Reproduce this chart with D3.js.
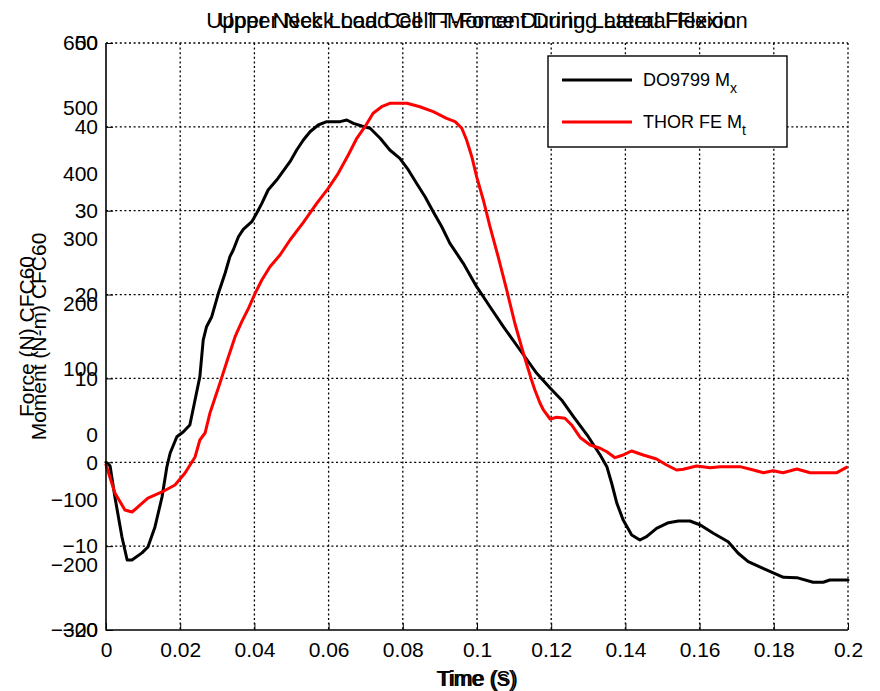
<!DOCTYPE html>
<html>
<head>
<meta charset="utf-8">
<script src="https://cdn.jsdelivr.net/npm/d3@7/dist/d3.min.js"></script>
<style>
  html, body { margin: 0; padding: 0; background: #fff; }
  svg { display: block; }
  text { font-family: "Liberation Sans", Arial, Helvetica, sans-serif; fill: #000; }
</style>
</head>
<body>
<svg id="chart" width="880" height="691"></svg>
<script>
// ---- data (time in s, moment in N-m) ----
const titles = ["Upper Neck Load Cell T-Force During Lateral Flexion",
                "Upper Neck Load Cell T-Moment During Lateral Flexion"];
const yLabels = ["Force (N) CFC60", "Moment (N-m) CFC60"];
const xLabels = ["Time (s)", "Time (S)"];
const xTicks = [0, 0.02, 0.04, 0.06, 0.08, 0.1, 0.12, 0.14, 0.16, 0.18, 0.2];
const forceTicks = [-300, -200, -100, 0, 100, 200, 300, 400, 500, 600];
const momentTicks = [-20, -10, 0, 10, 20, 30, 40, 50];
const seriesNames = ["DO9799 M", "THOR FE M"];
const seriesSubs = ["x", "t"];
const seriesColors = ["#000000", "#ff0000"];

const doTime = [0,0.0011,0.0024,0.0043,0.0057,0.0070,0.0097,0.0113,0.0132,0.0151,0.0164,0.0173,0.0191,0.0208,0.0226,0.0240,0.0253,0.0262,0.0271,0.0285,0.0303,0.0321,0.0334,0.0343,0.0357,0.0370,0.0393,0.0406,0.0420,0.0437,0.0460,0.0496,0.0514,0.0532,0.0550,0.0572,0.0595,0.0631,0.0649,0.0667,0.0689,0.0712,0.0739,0.0765,0.0792,0.0815,0.0837,0.0860,0.0882,0.0905,0.0927,0.0963,0.0999,0.1035,0.1071,0.1116,0.1161,0.1197,0.1228,0.1260,0.1300,0.1332,0.1350,0.1363,0.1377,0.1394,0.1417,0.1439,0.1457,0.1484,0.1516,0.1543,0.1574,0.1602,0.1637,0.1677,0.1704,0.1731,0.1771,0.1826,0.1862,0.1906,0.1933,0.1951,0.2000];
const doMoment = [0,-0.44,-4.14,-8.91,-11.65,-11.65,-10.8,-10.1,-7.71,-4.14,-0.56,1.11,3.05,3.61,4.45,7.43,10.21,14.58,16.17,17.36,20.15,22.54,24.52,25.32,26.9,27.78,28.69,29.69,30.88,32.47,33.66,35.85,37.24,38.43,39.42,40.22,40.62,40.62,40.82,40.42,40.10,39.83,38.64,37.24,36.25,34.86,33.27,31.67,29.88,28.09,26.11,23.73,20.94,18.55,16.17,13.39,10.61,8.86,7.43,5.44,3.05,0.87,-0.52,-2.50,-4.89,-6.88,-8.67,-9.27,-8.87,-7.87,-7.20,-7.00,-7.00,-7.48,-8.47,-9.47,-10.85,-11.85,-12.64,-13.71,-13.76,-14.31,-14.31,-14.04,-14.04];

const thorTime = [0,0.0024,0.0051,0.0070,0.0086,0.0113,0.0151,0.0186,0.0213,0.0240,0.0253,0.0267,0.0280,0.0307,0.0330,0.0348,0.0366,0.0384,0.0402,0.0420,0.0442,0.0469,0.0496,0.0532,0.0568,0.0599,0.0626,0.0653,0.0676,0.0698,0.0720,0.0743,0.0765,0.0811,0.0846,0.0882,0.0918,0.0941,0.0959,0.0972,0.0986,0.0999,0.1017,0.1035,0.1057,0.1080,0.1102,0.1125,0.1147,0.1156,0.1170,0.1179,0.1197,0.1215,0.1237,0.1255,0.1278,0.1305,0.1332,0.1350,0.1372,0.1394,0.1417,0.1448,0.1484,0.1511,0.1538,0.1556,0.1592,0.1628,0.1655,0.1709,0.1745,0.1772,0.1798,0.1825,0.1862,0.1898,0.1970,0.1996];
const thorMoment = [-0.3,-3.66,-5.69,-5.93,-5.33,-4.26,-3.54,-2.71,-1.28,0.63,2.66,3.49,5.84,9.42,12.59,14.98,16.77,18.36,20.15,21.74,23.32,24.72,26.51,28.6,30.88,32.67,34.46,36.64,38.64,40.02,41.62,42.40,42.81,42.81,42.40,41.81,41.02,40.62,39.83,38.43,36.44,34.06,31.28,28.09,24.52,20.55,16.58,13.0,9.81,8.62,7.04,6.24,5.16,5.37,5.25,4.45,2.96,2.06,1.67,1.26,0.55,0.87,1.35,0.87,0.39,-0.32,-0.92,-0.83,-0.44,-0.64,-0.52,-0.52,-0.92,-1.24,-1.00,-1.24,-0.80,-1.24,-1.24,-0.60];

// ---- layout ----
const W = 880, H = 691;
const L = 106, R = 848, T = 43, B = 630;
const svg = d3.select("#chart");

const x = d3.scaleLinear().domain([0, 0.2]).range([L, R]);
const yF = d3.scaleLinear().domain([-300, 600]).range([B, T]);
const yM = d3.scaleLinear().domain([-20, 50]).range([B, T]);

svg.append("rect").attr("width", W).attr("height", H).attr("fill", "#fff");

// grid (moment axes)
const grid = svg.append("g").attr("stroke", "#000").attr("stroke-width", 1.3)
  .attr("stroke-dasharray", "2,2.6").attr("fill", "none");
grid.selectAll("line.h").data(momentTicks.filter(d => d > -20)).enter().append("line")
  .attr("x1", L).attr("x2", R).attr("y1", d => yM(d)).attr("y2", d => yM(d));
grid.selectAll("line.v").data(xTicks.filter(d => d > 0)).enter().append("line")
  .attr("x1", d => x(d)).attr("x2", d => x(d)).attr("y1", T).attr("y2", B);

// series
const line = d3.line().x(d => x(d[0])).y(d => yM(d[1]));
const series = [d3.zip(doTime, doMoment), d3.zip(thorTime, thorMoment)];
svg.append("g").selectAll("path").data(series).enter().append("path")
  .attr("d", line).attr("fill", "none")
  .attr("stroke", (d, i) => seriesColors[i]).attr("stroke-width", 3)
  .attr("stroke-linejoin", "round").attr("stroke-linecap", "round");

// axes
const fs = 21;
const xAxis = svg.append("g").attr("transform", `translate(0,${B})`)
  .call(d3.axisBottom(x).tickValues(xTicks).tickFormat(d3.format("~g")).tickSize(-7).tickPadding(12));
const yAxisM = svg.append("g").attr("transform", `translate(${L},0)`)
  .call(d3.axisLeft(yM).tickValues(momentTicks).tickFormat(d3.format("d")).tickSize(-7).tickPadding(8));
const yAxisF = svg.append("g").attr("transform", `translate(${L},0)`)
  .call(d3.axisLeft(yF).tickValues(forceTicks).tickFormat(d3.format("d")).tickSize(0).tickPadding(8));
[xAxis, yAxisM, yAxisF].forEach(a => {
  a.select(".domain").remove();
  a.selectAll("line").attr("stroke", "#000").attr("stroke-width", 1);
  a.selectAll("text").attr("font-size", fs).attr("font-family", "Liberation Sans, Arial, sans-serif").attr("fill", "#000");
});
yAxisF.selectAll("line").remove();
svg.append("line").attr("x1", L).attr("x2", L).attr("y1", T).attr("y2", B + 0.5).attr("stroke", "#000").attr("stroke-width", 1.6);
svg.append("line").attr("x1", L).attr("x2", R).attr("y1", B).attr("y2", B).attr("stroke", "#000").attr("stroke-width", 1.6);

// titles and labels (two overlaid axes)
titles.forEach(t => svg.append("text").attr("x", (L + R) / 2).attr("y", 28)
  .attr("text-anchor", "middle").attr("font-size", 22).text(t));
xLabels.forEach(t => svg.append("text").attr("x", (L + R) / 2).attr("y", 686)
  .attr("text-anchor", "middle").attr("font-size", 21.5).text(t));
const ylx = [34, 46];
yLabels.forEach((t, i) => svg.append("text")
  .attr("transform", `translate(${ylx[i]},${(T + B) / 2}) rotate(-90)`)
  .attr("text-anchor", "middle").attr("font-size", 21).text(t));

// legend
const lg = svg.append("g");
lg.append("rect").attr("x", 548).attr("y", 56).attr("width", 239).attr("height", 91)
  .attr("fill", "#fff").attr("stroke", "#000").attr("stroke-width", 1.4);
seriesNames.forEach((n, i) => {
  const yy = 80 + i * 42;
  lg.append("line").attr("x1", 562).attr("x2", 632).attr("y1", yy).attr("y2", yy)
    .attr("stroke", seriesColors[i]).attr("stroke-width", 3);
  const tx = lg.append("text").attr("x", 643).attr("y", yy + 6).attr("font-size", 18);
  tx.append("tspan").text(n);
  tx.append("tspan").attr("dy", 7).attr("font-size", 14).text(seriesSubs[i]);
});
</script>
</body>
</html>
